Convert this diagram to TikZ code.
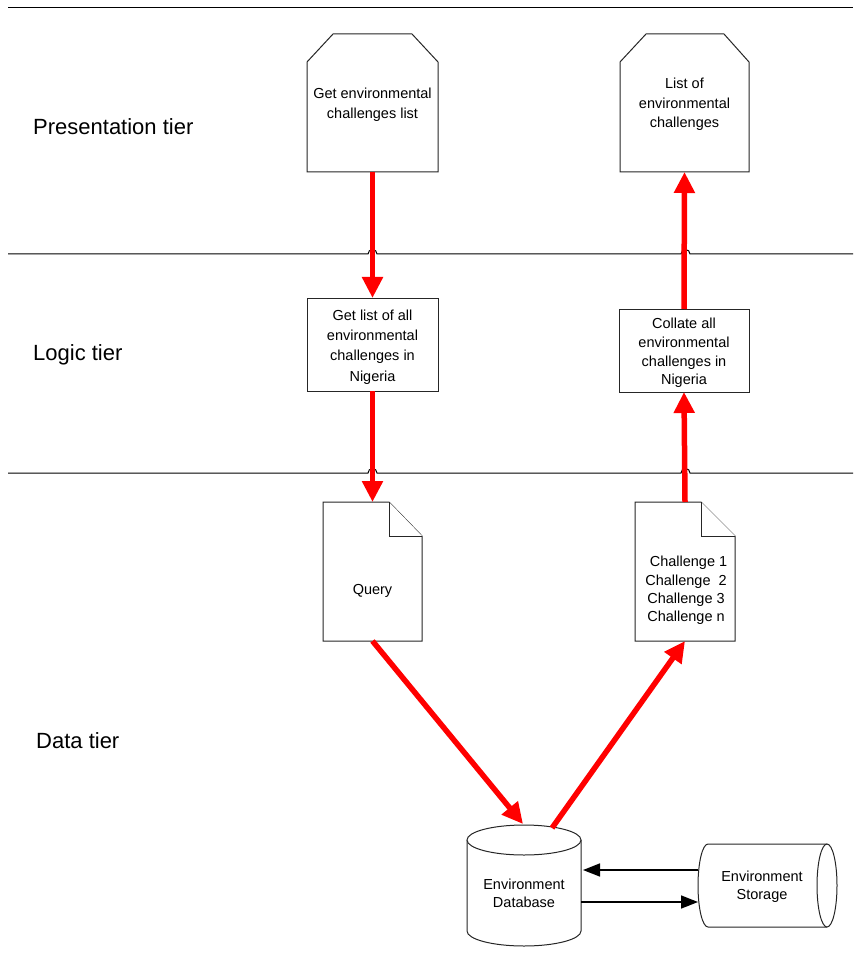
\documentclass[tikz,border=0pt]{standalone}
\usepackage{fontspec}
\setmainfont{Liberation Sans}
\usetikzlibrary{arrows.meta,calc}
\begin{document}
\begin{tikzpicture}[x=1pt,y=-1pt,
  lbl/.style={font=\fontsize{14.5}{20}\selectfont, align=center, text=black, inner sep=0pt},
  tierlbl/.style={font=\fontsize{22}{26}\selectfont, anchor=west, inner sep=0pt},
  shp/.style={draw=none, inner sep=0pt, outer sep=0pt},
  boxnode/.style={draw=black!85, line width=1pt, fill=white, inner sep=0pt, outer sep=0pt},
  outline/.style={draw=black!85, line width=1pt, fill=white},
  sep/.style={draw=black, line width=1pt},
  redarr/.style={draw=red, line width=5.5pt, -{Triangle[width=20pt,length=21pt]}},
  blkarr/.style={draw=black, line width=1.6pt, -{Triangle[width=13pt,length=17pt]}}
]
\useasboundingbox (0,0) rectangle (854,965);
\fill[white] (0,0) rectangle (854,965);

% tier separators
\draw[sep] (8,8) -- (853,8);
\draw[sep] (8,254) -- (368,254) arc[start angle=180,end angle=0,radius=4.5pt] -- (681,254) arc[start angle=180,end angle=0,radius=4.5pt] -- (853,254);
\draw[sep] (8,473) -- (368,473) arc[start angle=180,end angle=0,radius=4.5pt] -- (681,473) arc[start angle=180,end angle=0,radius=4.5pt] -- (853,473);

% tier labels
\node[tierlbl] (tp) at (33,127) {Presentation tier};
\node[tierlbl] (tl) at (33,355) {Logic tier};
\node[tierlbl] (td) at (36,741) {Data tier};

% presentation shapes
\draw[outline] (307,172) -- (307,62) -- (333,34) -- (412,34) -- (438,62) -- (438,172) -- cycle;
\draw[outline] (620,172) -- (620,62) -- (646,34) -- (724,34) -- (749,62) -- (749,172) -- cycle;
\node[shp, minimum width=131pt, minimum height=138pt] (p1) at (372.5,103) {};
\node[lbl] (p1t) at (372.5,105) {Get environmental\\challenges list};
\node[shp, minimum width=129pt, minimum height=138pt] (p2) at (684.5,103) {};
\node[lbl, font=\fontsize{14.5}{19.5}\selectfont] (p2t) at (684.5,104.5) {List of\\environmental\\challenges};

% logic boxes
\node[boxnode, minimum width=131pt, minimum height=93pt] (l1) at (372.5,344.5) {};
\node[lbl, font=\fontsize{14.5}{20.3}\selectfont] (l1t) at (372.5,347) {Get list of all\\environmental\\challenges in\\Nigeria};
\node[boxnode, minimum width=130pt, minimum height=83pt] (l2) at (684,350.5) {};
\node[lbl, font=\fontsize{14.5}{18.7}\selectfont] (l2t) at (684,353) {Collate all\\environmental\\challenges in\\Nigeria};

% documents
\draw[outline] (323,502) -- (389,502) -- (422,536) -- (422,641) -- (323,641) -- cycle;
\draw[outline] (389,502) -- (389,536) -- (422,536);
\draw[outline] (635,502) -- (701,502) -- (735,536) -- (735,641) -- (635,641) -- cycle;
\draw[outline] (701,502) -- (701,536) -- (735,536);
\node[shp, minimum width=99pt, minimum height=139pt] (d1) at (372.5,571.5) {};
\node[lbl] (d1t) at (372.5,591) {Query};
\node[shp, minimum width=100pt, minimum height=139pt] (d2) at (685,571.5) {};
\node[lbl, font=\fontsize{14.5}{18.4}\selectfont] (d2t) at (686,590.5) {\hspace*{5pt}Challenge 1\\Challenge\ \ 2\\Challenge 3\\Challenge n};

% database cylinder
\fill[white] (467,840) rectangle (581,931);
\draw[outline] (467,840) -- (467,931) arc[start angle=180,end angle=360,x radius=57pt,y radius=15pt] -- (581,840);
\draw[outline] (524,840) ellipse[x radius=57pt,y radius=15pt];
\node[shp, minimum width=114pt, minimum height=121pt] (db) at (524,885.5) {};
\node[lbl, font=\fontsize{14.5}{18}\selectfont] (dbt) at (524,893.5) {Environment\\Database};

% storage cylinder
\fill[white] (708,844) rectangle (827,927);
\draw[outline] (827,844) -- (708,844) arc[start angle=90,end angle=270,x radius=10pt,y radius=41.5pt] -- (827,927);
\draw[outline] (827,885.5) ellipse[x radius=10pt,y radius=41.5pt];
\node[shp, minimum width=139pt, minimum height=83pt] (st) at (767.5,885.5) {};
\node[lbl, font=\fontsize{14.5}{18}\selectfont] (stt) at (762,887) {Environment\\Storage};

% black arrows
\draw[blkarr] ([yshift=15.5pt]st.west) -- ([yshift=15.5pt,xshift=2pt]db.east);
\draw[blkarr] ([yshift=-16.5pt]db.east) -- ([yshift=-16.5pt]st.west);

% red flow arrows
\coordinate (dbin) at (523,824);
\coordinate (dbout) at (552,828);
\draw[redarr] (p1.south) -- (l1.north);
\draw[redarr] (l1.south) -- (d1.north);
\draw[redarr] (d1.south) -- (dbin);
\draw[redarr] (dbout) -- (d2.south);
\draw[redarr] (d2.north) -- (l2.south);
\draw[redarr] (l2.north) -- (p2.south);
\end{tikzpicture}
\end{document}
